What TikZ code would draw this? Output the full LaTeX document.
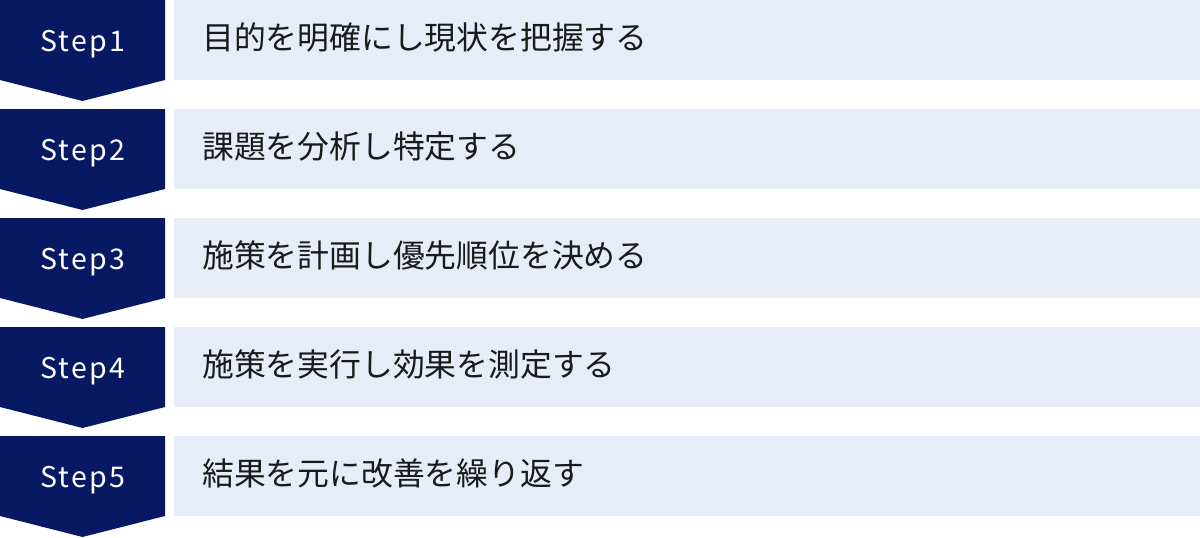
\documentclass[tikz,border=0pt]{standalone}
\usepackage{fontspec}
\newfontfamily\jpfont{Noto Sans CJK JP}
\newfontfamily\stepfont[LetterSpace=8]{Noto Sans CJK JP}
\definecolor{navy}{HTML}{081963}
\definecolor{pale}{HTML}{E7ECF9}
\definecolor{ink}{HTML}{1A1A1A}
\tikzset{
  chevron/.style={fill=navy, draw=none},
  band/.style={fill=pale, draw=none},
  steplabel/.style={text=white, inner sep=0pt, anchor=base, font=\stepfont\fontsize{28.5}{34}\selectfont},
  desc/.style={text=ink, inner sep=0pt, anchor=base west, font=\jpfont\fontsize{31.8}{38}\selectfont}
}
\begin{document}
\begin{tikzpicture}[x=1pt,y=-1pt]
\useasboundingbox (0,0) rectangle (1200,538);
\foreach \i/\t in {1/目的を明確にし現状を把握する,2/課題を分析し特定する,3/施策を計画し優先順位を決める,4/施策を実行し効果を測定する,5/結果を元に改善を繰り返す}{
  \pgfmathsetmacro{\top}{(\i-1)*109}
  \fill[chevron] (0,\top) -- (165,\top) -- (165,\top+80) -- (82.5,\top+101) -- (0,\top+80) -- cycle;
  \fill[band] (174,\top) rectangle (1200,\top+80);
  \node[steplabel] (s\i) at (82.5,\top+51.5) {Step\i};
  \node[desc] (d\i) at (202,\top+49) {\t};
}
\end{tikzpicture}
\end{document}
